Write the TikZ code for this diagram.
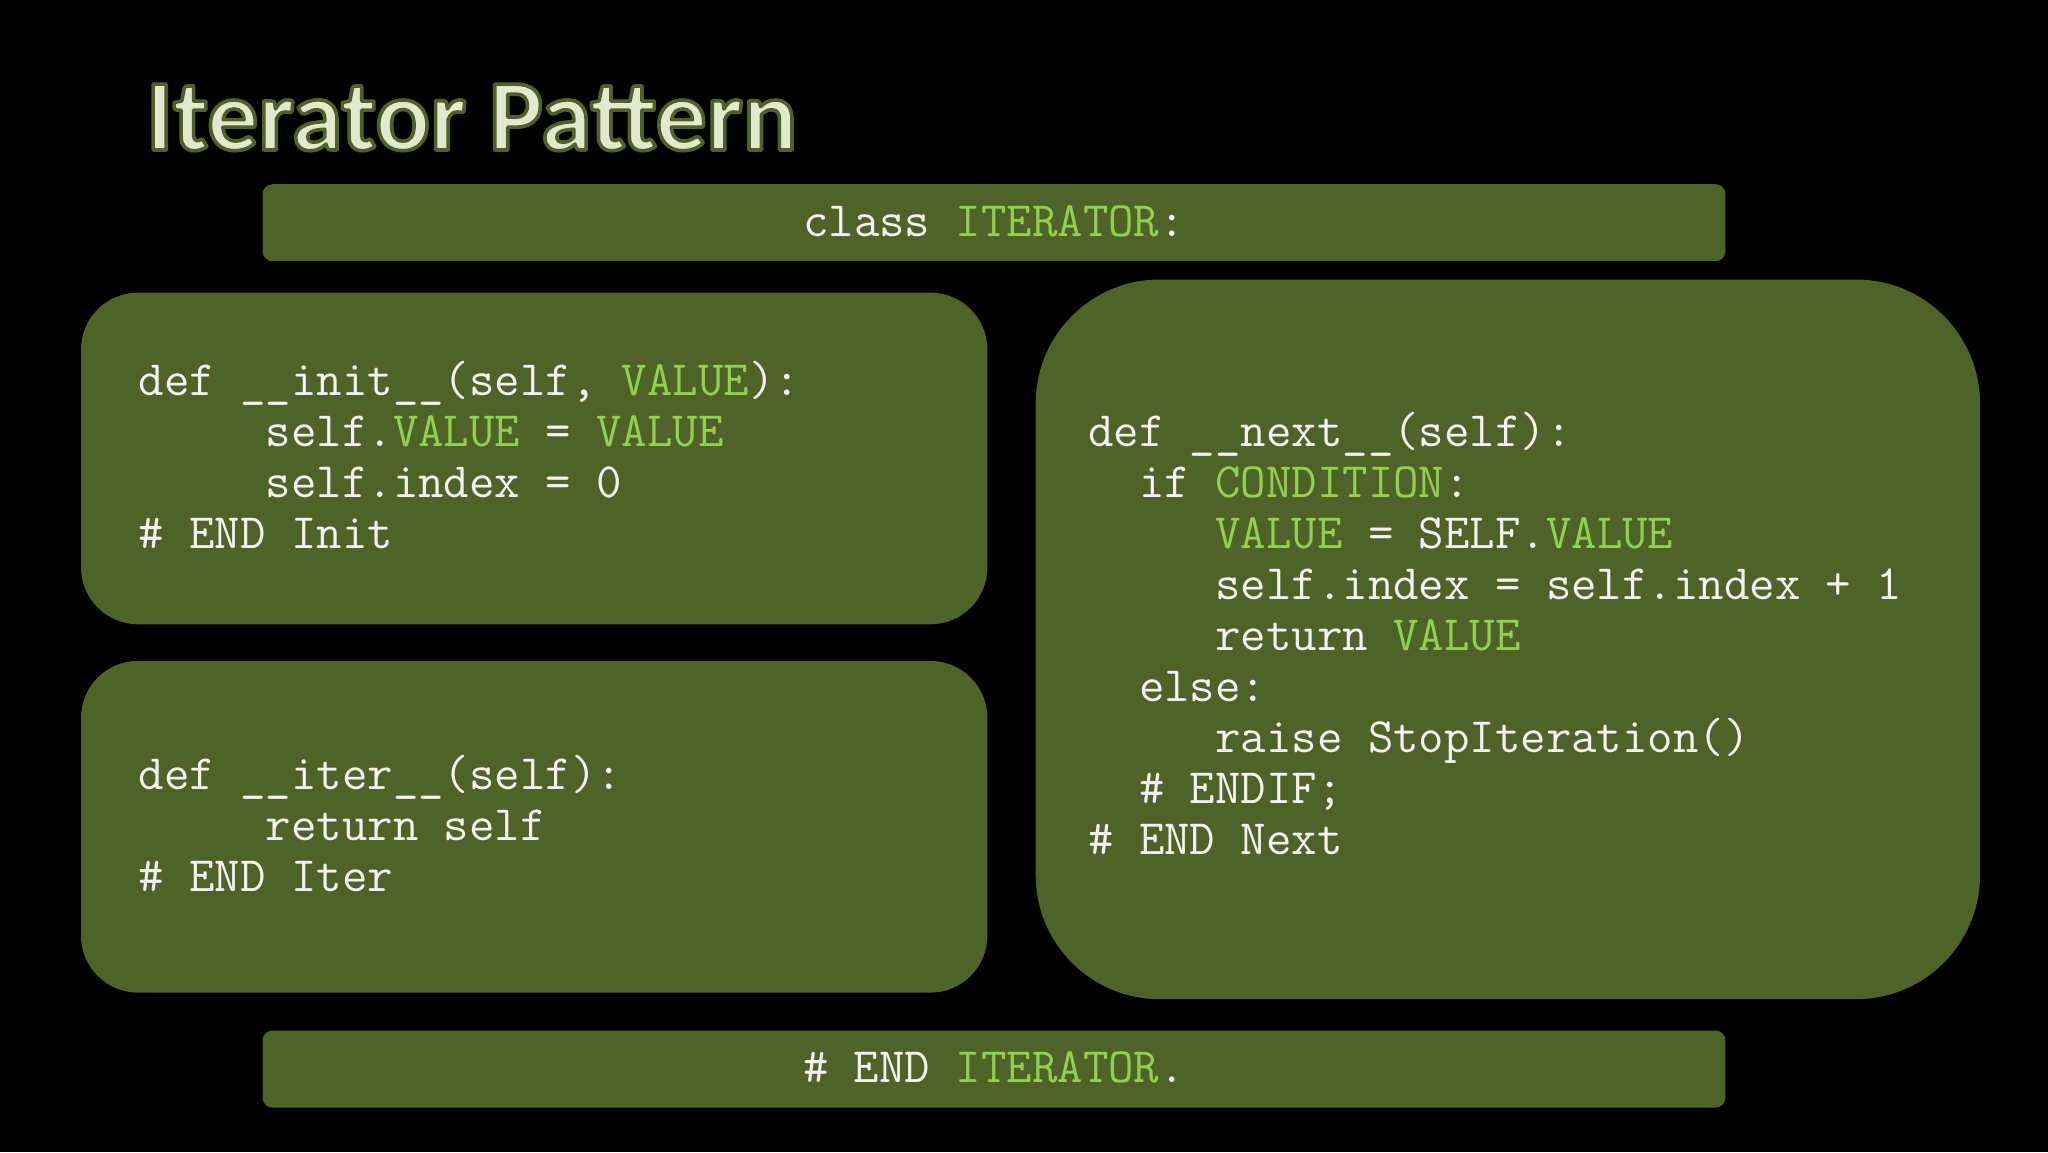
\documentclass[tikz,border=0pt]{standalone}
\usepackage{fontspec}
\newfontfamily\titlefont{Carlito}
\definecolor{olive}{HTML}{4F6228}
\definecolor{lgreen}{HTML}{92D050}
\definecolor{codewhite}{HTML}{F2F2F2}
\definecolor{titlefill}{HTML}{E3E8CF}
\newcommand{\gr}[1]{\textcolor{lgreen}{#1}}
\newcommand{\ind}[1]{\phantom{#1}}
\newcommand{\outlined}[1]{\special{pdf:literal direct 2 Tr 3.6 w 1 j 0.31 0.38 0.15 RG}#1\special{pdf:literal direct 0 Tr}}
\tikzset{
  panel/.style={fill=olive, draw=none, inner sep=0pt},
  code/.style={font=\ttfamily\fontsize{49.4}{51}\selectfont\frenchspacing, text=codewhite, inner sep=0pt, anchor=base west},
  barcode/.style={font=\ttfamily\fontsize{49.4}{51}\selectfont\frenchspacing, text=codewhite, inner sep=0pt, anchor=base},
  titletext/.style={font=\titlefont\bfseries\fontsize{101.5}{112}\selectfont, inner sep=0pt, anchor=base west}
}
\begin{document}
\begin{tikzpicture}[x=1pt,y=-1pt]
\useasboundingbox (0,0) rectangle (2048,1152);
\fill[black] (0,0) rectangle (2048,1152);

% title
\node[titletext, text=titlefill] (title) at (146,150) {\outlined{Iterator Pattern}};

% panels
\node[panel, rounded corners=10, minimum width=1462.9, minimum height=77] (classbar) at (993.95,222.7) {};
\node[panel, rounded corners=57, minimum width=906.4, minimum height=331.7] (init) at (534.2,458.45) {};
\node[panel, rounded corners=57, minimum width=906.4, minimum height=331.7] (iter) at (534.2,826.75) {};
\node[panel, rounded corners=124, minimum width=944.3, minimum height=719.7] (next) at (1507.85,639.35) {};
\node[panel, rounded corners=10, minimum width=1462.9, minimum height=77.1] (endbar) at (993.95,1069.05) {};

% bars text
\node[barcode] (classtxt) at (993.95,236.4) {class \gr{ITERATOR}:};
\node[barcode] (endtxt) at (993.95,1082.8) {\# END \gr{ITERATOR}.};

% init
\node[code] (i1) at (138.4,395.7) {def \_\_init\_\_(self, \gr{VALUE}):};
\node[code] (i2) at (138.4,446.7) {\ind{xxxxx}self.\gr{VALUE} = \gr{VALUE}};
\node[code] (i3) at (138.4,497.7) {\ind{xxxxx}self.index = 0};
\node[code] (i4) at (138.4,548.7) {\# END Init};

% iter
\node[code] (t1) at (138.4,789.5) {def \_\_iter\_\_(self):};
\node[code] (t2) at (138.4,840.5) {\ind{xxxxx}return self};
\node[code] (t3) at (138.4,891.5) {\# END Iter};

% next
\node[code] (n1) at (1088,446.7) {def \_\_next\_\_(self):};
\node[code] (n2) at (1088,497.7) {\ind{xx}if \gr{CONDITION}:};
\node[code] (n3) at (1088,548.7) {\ind{xxxxx}\gr{VALUE} = SELF.\gr{VALUE}};
\node[code] (n4) at (1088,599.7) {\ind{xxxxx}self.index = self.index + 1};
\node[code] (n5) at (1088,650.7) {\ind{xxxxx}return \gr{VALUE}};
\node[code] (n6) at (1088,701.7) {\ind{xx}else:};
\node[code] (n7) at (1088,752.7) {\ind{xxxxx}raise StopIteration()};
\node[code] (n8) at (1088,803.7) {\ind{xx}\# ENDIF;};
\node[code] (n9) at (1088,854.7) {\# END Next};
\end{tikzpicture}
\end{document}
